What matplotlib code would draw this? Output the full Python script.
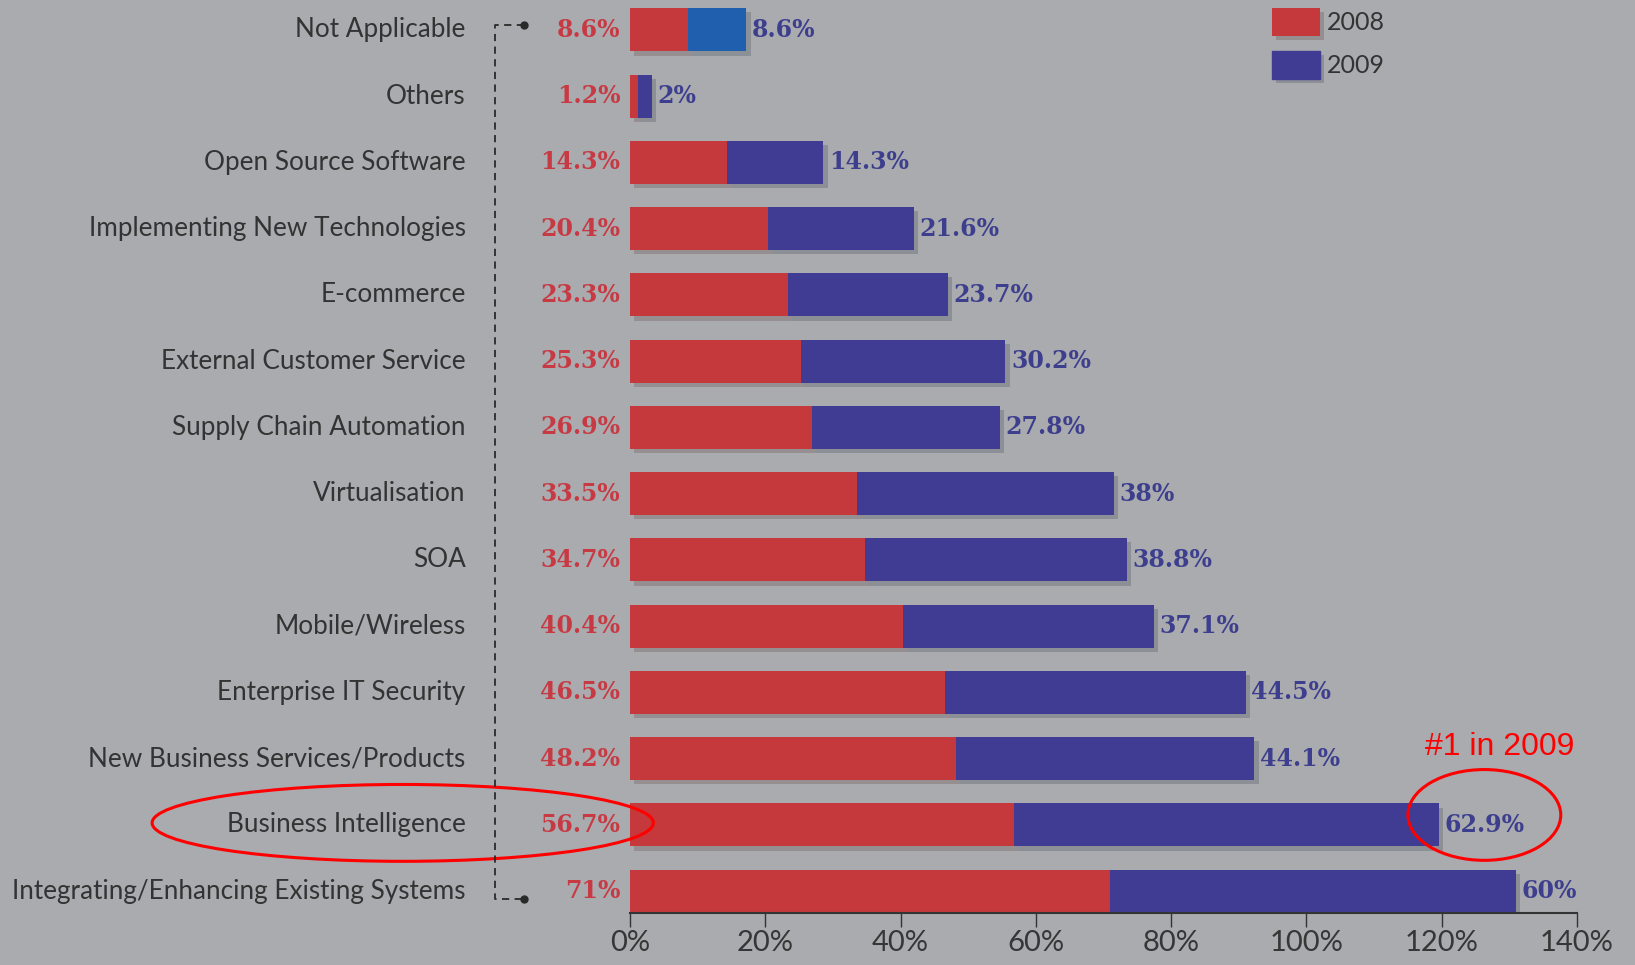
import matplotlib.pyplot as plt
import matplotlib.patheffects as pe
from matplotlib.patches import Ellipse

categories = ["Not Applicable", "Others", "Open Source Software",
              "Implementing New Technologies", "E-commerce",
              "External Customer Service", "Supply Chain Automation",
              "Virtualisation", "SOA", "Mobile/Wireless",
              "Enterprise IT Security", "New Business Services/Products",
              "Business Intelligence", "Integrating/Enhancing Existing Systems"]
v2008 = [8.6, 1.2, 14.3, 20.4, 23.3, 25.3, 26.9, 33.5, 34.7, 40.4, 46.5, 48.2, 56.7, 71]
v2009 = [8.6, 2, 14.3, 21.6, 23.7, 30.2, 27.8, 38, 38.8, 37.1, 44.5, 44.1, 62.9, 60]
xticks = [0, 20, 40, 60, 80, 100, 120, 140]

bg = "#a9abae"
red = "#c5393d"
blue = "#403c94"
blue_na = "#1f5fad"

fig = plt.figure(figsize=(16.35, 9.65), dpi=100, facecolor=bg)
ax = fig.add_axes([630 / 1635, 52 / 965, (1577 - 630) / 1635, 913 / 965])
ax.set_facecolor(bg)

y = list(range(len(categories)))
shadow = [pe.SimplePatchShadow(offset=(3, -3), alpha=0.18), pe.Normal()]
b1 = ax.barh(y, v2008, height=0.65, color=red, label="2008", path_effects=shadow)
cols = [blue_na] + [blue] * (len(categories) - 1)
b2 = ax.barh(y, v2009, left=v2008, height=0.65, color=cols, label="2009", path_effects=shadow)

for i, cat in enumerate(categories):
    ax.text(-24.3, i, cat, ha="right", va="center", fontsize=18.8,
            family="Lato", color="#333333", clip_on=False)
    ax.annotate(f"{v2008[i]:g}%", (0, i), xytext=(-7, 0), textcoords="offset points",
                ha="right", va="center", fontsize=17, family="DejaVu Serif",
                fontweight="bold", color="#c73a44", annotation_clip=False)
    ax.annotate(f"{v2009[i]:g}%", (v2008[i] + v2009[i], i), xytext=(4, 0),
                textcoords="offset points", ha="left", va="center", fontsize=17,
                family="DejaVu Serif", fontweight="bold", color="#3d3e8e",
                annotation_clip=False)

# dashed bracket on the left
ax.plot([-15.7, -20, -20, -15.7], [-0.08, -0.08, 13.12, 13.12], ls=(0, (4, 3)),
        color="#2a2a2a", lw=1.3, clip_on=False)
ax.plot([-15.7, -15.7], [-0.08, 13.12], "o", color="#2a2a2a", ms=5, clip_on=False)

# red highlight annotations
ax.add_patch(Ellipse((-33.6, 11.97), 74.1, 1.16, fill=False, ec="#ff0000", lw=2.2, clip_on=False))
ax.add_patch(Ellipse((126.3, 11.85), 22.6, 1.37, fill=False, ec="#ff0000", lw=2.2, clip_on=False))
ax.text(128.5, 10.83, "#1 in 2009", ha="center", va="center", fontsize=23,
        family="Liberation Sans", color="#ff0000", clip_on=False)

ax.set_xlim(0, 140)
ax.set_ylim(13.33, -0.45)
ax.set_xticks(xticks)
ax.set_xticklabels([f"{t}%" for t in xticks], fontsize=21, family="Lato",
                   color="#363636")
ax.tick_params(axis="x", direction="out", length=10, width=1, color="#333333", pad=2)
ax.set_yticks([])
for s in ["top", "right", "left"]:
    ax.spines[s].set_visible(False)
ax.spines["bottom"].set_color("#333333")
ax.spines["bottom"].set_linewidth(1.5)

leg = fig.legend(handles=[b1, b2], loc="upper left", bbox_to_anchor=(1272 / 1635, 1 - 8 / 965),
                 frameon=False, handlelength=1.9, handleheight=1.35,
                 handletextpad=0.3, labelspacing=0.6, borderpad=0, borderaxespad=0,
                 prop={"family": "Lato", "size": 18})
for t in leg.get_texts():
    t.set_color("#333333")
leg.legend_handles[1].set_color(blue)

fig.savefig("out.png", dpi=100, facecolor=bg)
